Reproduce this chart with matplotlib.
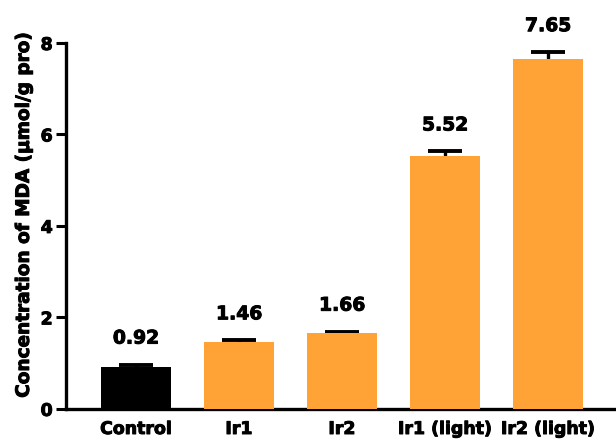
import matplotlib.pyplot as plt
import matplotlib.patheffects as pe

groups = ['Control', 'Ir1', 'Ir2', 'Ir1 (light)', 'Ir2 (light)']
mda = [0.92, 1.46, 1.66, 5.52, 7.65]
mda_sd = [0.05, 0.04, 0.03, 0.11, 0.15]
bar_colors = ['#000000', '#FFA336', '#FFA336', '#FFA336', '#FFA336']

plt.rcParams['font.family'] = ['DejaVu Sans']
plt.rcParams['font.weight'] = 'bold'

# slightly heavier strokes for all text
heavy = [pe.withStroke(linewidth=0.7, foreground='black')]

fig = plt.figure(figsize=(6.16, 4.43), dpi=100)
ax = fig.add_axes([0.107, 0.077, 0.893, 0.826])

x = range(len(groups))
# error bars sit behind the bars so only the upper half shows
ax.errorbar(x, mda, yerr=mda_sd, fmt='none', ecolor='black',
            elinewidth=2.4, capsize=12, capthick=2.8, zorder=2, clip_on=False)
ax.bar(x, mda, width=0.68, color=bar_colors, zorder=3)

for xi, v, s in zip(x, mda, mda_sd):
    ax.text(xi, v + s + 0.37, f'{v:.2f}', ha='center', va='bottom',
            fontsize=13.5, fontweight='bold', clip_on=False, path_effects=heavy)

ax.set_xlim(-0.68, 4.66)
ax.set_ylim(0, 8)
ax.set_yticks([0, 2, 4, 6, 8])
ax.set_xticks(list(x))
ax.set_xticklabels(groups)
ax.tick_params(axis='x', length=0, pad=8, labelsize=12.5)
ax.tick_params(axis='y', length=7.5, width=2.2, pad=2, labelsize=12.5)
for lbl in ax.get_xticklabels() + ax.get_yticklabels():
    lbl.set_path_effects(heavy)
ax.set_ylabel('Concentration of MDA (μmol/g pro)', fontsize=13.3,
              fontweight='bold', path_effects=heavy)
ax.yaxis.set_label_coords(-0.06, 0.53)

for side in ['top', 'right']:
    ax.spines[side].set_visible(False)
for side in ['left', 'bottom']:
    ax.spines[side].set_linewidth(2.4)

fig.savefig('out.png', dpi=100)
